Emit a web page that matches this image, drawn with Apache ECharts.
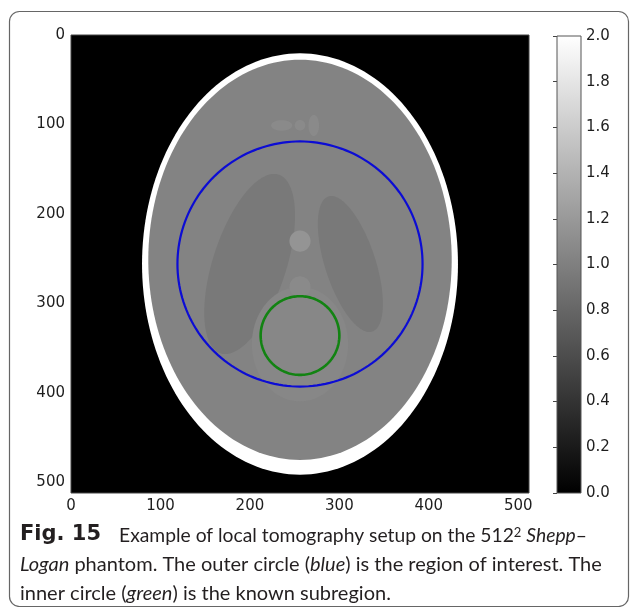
<!DOCTYPE html>
<html>
<head>
<meta charset="utf-8">
<script src="https://cdn.jsdelivr.net/npm/echarts@6/dist/echarts.min.js"></script>
<style>
  html, body { margin: 0; padding: 0; background: #ffffff; }
  #chart { width: 630px; height: 607px; }
</style>
</head>
<body>
<div id="chart"></div>
<script>
// Shepp–Logan phantom on a 512 x 512 pixel grid, described as ellipses
// (centre column, centre row, half-width, half-height, tilt in degrees, grey level).
const ellCx    = [256,   256,   312.3, 199.7, 256,   256,   256,   235.5, 256,   271.4];
const ellCy    = [256,   251.3, 256,   256,   345.6, 281.6, 230.4, 101.1, 100.9, 101.1];
const ellA     = [176.6, 169.6, 28.2,  41.0,  53.8,  11.8,  11.8,  11.8,  5.9,   5.9];
const ellB     = [235.5, 223.7, 79.4,  105.0, 64.0,  11.8,  11.8,  5.9,   5.9,   11.8];
const ellTilt  = [0,     0,     -18,   18,    0,     0,     0,     0,     0,     0];
const ellLevel = [2.0,   1.03,  0.95,  0.95,  1.06,  1.08,  1.16,  1.08,  1.08,  1.08];

// Region of interest (outer) and known subregion (inner): centre column, centre row, radius
const roiCircle   = [256, 256, 137];
const knownCircle = [256, 336, 44];

// Axis ticks
const imageTicks    = [0, 100, 200, 300, 400, 500];
const colorbarRange = [0, 2];
const colorbarStep  = 0.2;

const phantomData = ellCx.map((cx, i) => [cx, ellCy[i], ellA[i], ellB[i], ellTilt[i], ellLevel[i]]);

// Outline of a tilted ellipse in data units, mapped to pixels through the axes
function ellipsePoints(api, cx, cy, a, b, tiltDeg) {
  const t = tiltDeg * Math.PI / 180;
  const ux = Math.cos(t), uy = Math.sin(t);     // minor axis direction (row axis points down)
  const vx = Math.sin(t), vy = -Math.cos(t);    // major axis direction
  const pts = [];
  const n = 180;
  for (let k = 0; k < n; k++) {
    const s = 2 * Math.PI * k / n;
    const x = cx + a * Math.cos(s) * ux + b * Math.sin(s) * vx;
    const y = cy + a * Math.cos(s) * uy + b * Math.sin(s) * vy;
    pts.push(api.coord([x, y]));
  }
  return pts;
}

const tickFamily = 'DejaVu Sans';
const tickSize = 15;
const tickColor = '#1e1e1e';
const captionFont = 'Lato';
const capSize = 20;
const capColor = '#231f20';

const chart = echarts.init(document.getElementById('chart'), null, { renderer: 'canvas' });

const option = {
  animation: false,
  backgroundColor: '#ffffff',
  grid: [
    { left: 71, top: 35, width: 458, height: 458, show: true, backgroundColor: '#000000',
      borderColor: '#444444', borderWidth: 1, containLabel: false },
    { left: 557, top: 36, width: 24, height: 457, show: false, containLabel: false }
  ],
  xAxis: [
    { gridIndex: 0, type: 'value', min: 0, max: 512, interval: 100, position: 'bottom',
      axisLine: { show: false }, axisTick: { show: false }, splitLine: { show: false },
      axisLabel: { margin: 6, fontFamily: tickFamily, fontSize: tickSize, color: tickColor,
                   formatter: v => (imageTicks.includes(v) ? String(v) : '') } },
    { gridIndex: 1, type: 'value', min: 0, max: 1, show: false }
  ],
  yAxis: [
    { gridIndex: 0, type: 'value', min: 0, max: 512, interval: 100, inverse: true,
      axisLine: { show: false }, axisTick: { show: false }, splitLine: { show: false },
      axisLabel: { margin: 6, fontFamily: tickFamily, fontSize: tickSize, color: tickColor,
                   formatter: v => (imageTicks.includes(v) ? String(v) : '') } },
    { gridIndex: 1, type: 'value', min: colorbarRange[0], max: colorbarRange[1], interval: colorbarStep,
      position: 'right',
      axisLine: { show: false },
      axisTick: { show: true, inside: true, length: 4, lineStyle: { color: '#444', width: 1 } },
      splitLine: { show: false },
      axisLabel: { margin: 5, fontFamily: tickFamily, fontSize: tickSize, color: tickColor,
                   formatter: v => v.toFixed(1) } }
  ],
  visualMap: {
    type: 'continuous', show: false, seriesIndex: 0, dimension: 5,
    min: colorbarRange[0], max: colorbarRange[1],
    inRange: { color: ['#000000', '#ffffff'] }
  },
  series: [
    {
      name: 'phantom', type: 'custom', xAxisIndex: 0, yAxisIndex: 0,
      clip: true,
      data: phantomData,
      renderItem: function (params, api) {
        const pts = ellipsePoints(api, api.value(0), api.value(1), api.value(2), api.value(3), api.value(4));
        return { type: 'polygon', shape: { points: pts }, style: { fill: api.visual('color'), stroke: null } };
      }
    },
    {
      name: 'region of interest', type: 'custom', xAxisIndex: 0, yAxisIndex: 0,
      data: [roiCircle],
      renderItem: function (params, api) {
        const r = api.value(2);
        const pts = ellipsePoints(api, api.value(0), api.value(1), r, r, 0);
        return { type: 'polygon', shape: { points: pts },
                 style: { fill: null, stroke: '#0c0cd4', lineWidth: 2.2 } };
      }
    },
    {
      name: 'known subregion', type: 'custom', xAxisIndex: 0, yAxisIndex: 0,
      data: [knownCircle],
      renderItem: function (params, api) {
        const r = api.value(2);
        const pts = ellipsePoints(api, api.value(0), api.value(1), r, r, 0);
        return { type: 'polygon', shape: { points: pts },
                 style: { fill: null, stroke: '#128312', lineWidth: 2.6 } };
      }
    },
    {
      name: 'colorbar', type: 'custom', xAxisIndex: 1, yAxisIndex: 1,
      data: [[0, 1, colorbarRange[0], colorbarRange[1]]],
      renderItem: function (params, api) {
        const p0 = api.coord([api.value(0), api.value(2)]);
        const p1 = api.coord([api.value(1), api.value(3)]);
        return {
          type: 'rect',
          shape: { x: p0[0], y: p1[1], width: p1[0] - p0[0], height: p0[1] - p1[1] },
          style: {
            fill: new echarts.graphic.LinearGradient(0, 1, 0, 0, [
              { offset: 0, color: '#000000' }, { offset: 1, color: '#ffffff' }
            ]),
            stroke: '#555555', lineWidth: 1
          }
        };
      }
    }
  ],
  graphic: [
    {
      type: 'rect', z: -1, silent: true,
      shape: { x: 9.5, y: 11.5, width: 619, height: 595, r: 10 },
      style: { fill: null, stroke: '#666666', lineWidth: 1.2 }
    },
    {
      type: 'text', x: 20, y: 535,
      style: {
        text: 'Fig. 15',
        fontFamily: 'DejaVu Sans', fontSize: 21, fontWeight: 'bold', fill: capColor, verticalAlign: 'middle'
      }
    },
    {
      type: 'text', x: 119, y: 536,
      style: {
        text: 'Example of local tomography setup on the 512{sup|2} {i|Shepp}–',
        fontFamily: captionFont, fontSize: 19.3, fill: capColor, verticalAlign: 'middle',
        rich: {
          i: { fontFamily: captionFont, fontSize: 19.3, fontStyle: 'italic', fill: capColor },
          sup: { fontFamily: captionFont, fontSize: 13, fill: capColor, verticalAlign: 'top' }
        }
      }
    },
    {
      type: 'text', x: 20, y: 565,
      style: {
        text: '{i|Logan} phantom. The outer circle ({i|blue}) is the region of interest. The',
        fontFamily: captionFont, fontSize: capSize, fill: capColor, verticalAlign: 'middle',
        rich: {
          i: { fontFamily: captionFont, fontSize: capSize, fontStyle: 'italic', fill: capColor }
        }
      }
    },
    {
      type: 'text', x: 20, y: 594,
      style: {
        text: 'inner circle ({i|green}) is the known subregion.',
        fontFamily: captionFont, fontSize: capSize, fill: capColor, verticalAlign: 'middle',
        rich: {
          i: { fontFamily: captionFont, fontSize: capSize, fontStyle: 'italic', fill: capColor }
        }
      }
    }
  ]
};

chart.setOption(option);
</script>
</body>
</html>
